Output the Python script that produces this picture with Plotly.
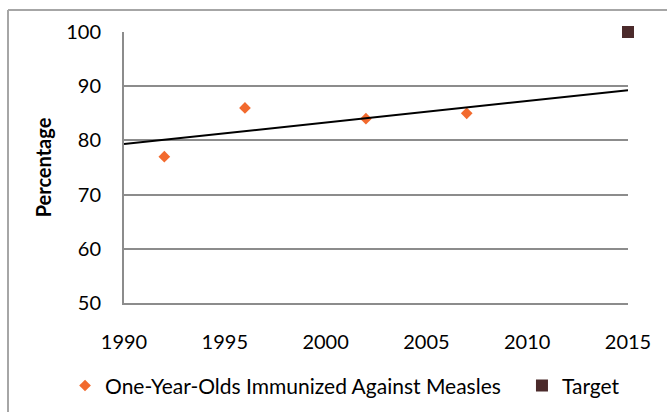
import numpy as np
import plotly.graph_objects as go

# dados
anos = [1992, 1996, 2002, 2007]
imunizados = [77, 86, 84, 85]
ano_meta = [2015]
meta = [100]

# linha de tendência linear (como no Excel)
coef = np.polyfit(anos, imunizados, 1)
x_tend = [1990, 2015]
y_tend = list(np.polyval(coef, x_tend))

FONTE = 'Lato'
CINZA = '#8c8c8c'

fig = go.Figure()
fig.add_trace(go.Scatter(
    x=anos, y=imunizados, mode='markers',
    name='One-Year-Olds Immunized Against Measles' + '\u00a0' * 3,
    marker=dict(symbol='diamond', size=9, color='#f26a2e'),
))
fig.add_trace(go.Scatter(
    x=x_tend, y=y_tend, mode='lines', showlegend=False,
    line=dict(color='black', width=2), hoverinfo='skip',
))
fig.add_trace(go.Scatter(
    x=ano_meta, y=meta, mode='markers', name='Target',
    marker=dict(symbol='square', size=12, color='#4b2a2b'),
    cliponaxis=False,
))

# borda externa do gráfico (cortada pela imagem)
esq = (8 - 124) / 504
topo = 1 + (32 - 10) / 271
fig.add_shape(type='line', xref='paper', yref='paper', x0=esq, x1=esq, y0=-1, y1=topo,
              line=dict(color='#a6a6a6', width=2))
fig.add_shape(type='line', xref='paper', yref='paper', x0=esq, x1=2, y0=topo, y1=topo,
              line=dict(color='#a6a6a6', width=2))

fig.update_layout(
    width=667, height=412,
    margin=dict(l=124, r=39, t=32, b=109, autoexpand=False),
    paper_bgcolor='white', plot_bgcolor='white',
    font=dict(family=FONTE, size=20, color='black'),
    xaxis=dict(range=[1990, 2015], dtick=5, showgrid=False, zeroline=False,
               showline=True, linecolor=CINZA, linewidth=2, ticks='', ticklabelstandoff=20),
    yaxis=dict(range=[50, 100], dtick=10, showgrid=True, gridcolor=CINZA, gridwidth=2,
               zeroline=False, showline=True, linecolor=CINZA, linewidth=2, ticks='',
               ticklabelstandoff=17,
               title=dict(text='<b>Percentage</b>', font=dict(size=20), standoff=9)),
    legend=dict(orientation='h', x=-0.117, xanchor='left', y=-0.23, yanchor='top',
                font=dict(size=21), itemclick=False),
    showlegend=True,
)

fig.write_html('out.html', config={'displayModeBar': False},
               post_script="document.body.style.margin='0';")
